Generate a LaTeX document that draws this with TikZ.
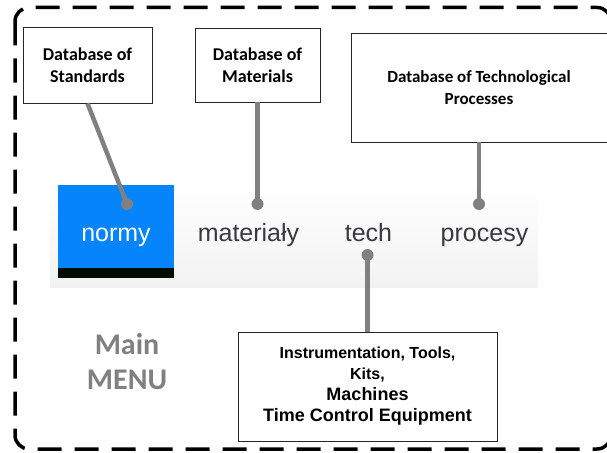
\documentclass[tikz,border=0pt]{standalone}
\usepackage{fontspec}
\setmainfont{Carlito}
\newfontfamily\arialfont{Liberation Sans}
\definecolor{normyblue}{RGB}{6,132,252}
\definecolor{conngray}{RGB}{128,128,128}
\definecolor{menutext}{RGB}{58,58,62}
\tikzset{
  dbbox/.style={draw=black!85, line width=.8pt, fill=white, align=center, inner sep=0pt,
    font=\bfseries\fontsize{18}{22}\selectfont},
  conn/.style={draw=conngray, line width=4.5pt},
  knob/.style={fill=conngray},
  menuitem/.style={anchor=base, text=menutext, inner sep=0pt, font=\arialfont\fontsize{25}{25}\selectfont},
}
\begin{document}
\begin{tikzpicture}[x=1pt,y=-1pt]
\useasboundingbox (0,0) rectangle (607,452);
% outer frame
\draw[line width=3.5pt, dash pattern=on 24pt off 13pt, rounded corners=14pt] (15,7.5) rectangle (611,449);
% menu bar
\shade[top color=white, bottom color=black!5] (50,185) rectangle (538,287);
\fill[normyblue] (58,185) rectangle (174,268);
\fill[black!95!green] (58,268) rectangle (174,278);
\node[menuitem, text=white] (normy) at (116,241) {normy};
\node[menuitem] (materialy) at (248.5,241) {materiały};
\node[menuitem] (tech) at (368.5,241) {tech};
\node[menuitem] (procesy) at (484.5,241) {procesy};
% databases
\node[dbbox, minimum width=129pt, minimum height=76pt] (std) at (87.5,65) {Database of\\Standards};
\node[dbbox, minimum width=125pt, minimum height=74pt] (mat) at (257.5,65) {Database of\\Materials};
\node[dbbox, minimum width=256pt, minimum height=109pt, font=\bfseries\fontsize{17}{22}\selectfont] (techproc) at (479,87.5) {Database of Technological\\Processes};
\node[dbbox, minimum width=259pt, minimum height=109pt, font=\arialfont\bfseries\fontsize{18}{21}\selectfont] (instr) at (367.5,386.5)
  {{\fontsize{16}{21}\selectfont Instrumentation, Tools,}\\{\fontsize{16}{21}\selectfont Kits,}\\Machines\\Time Control Equipment};
\node[align=center, text=conngray, font=\bfseries\fontsize{30}{35}\selectfont] (mainmenu) at (127,362) {Main\\MENU};
% connectors
\coordinate (stdknob) at (127,204);
\coordinate (matknob) at (257.5,204);
\coordinate (procknob) at (479,204);
\coordinate (techknob) at (367.5,255);
\draw[conn] (std.south) -- (stdknob);
\draw[conn] (mat.south) -- (matknob);
\draw[conn] (techproc.south) -- (procknob);
\draw[conn] (instr.north) -- (techknob);
\foreach \k in {stdknob,matknob,procknob,techknob}
  \fill[knob] (\k) circle (6pt);
\end{tikzpicture}
\end{document}
